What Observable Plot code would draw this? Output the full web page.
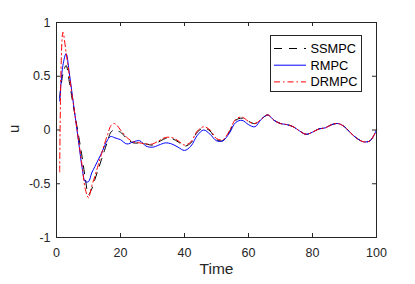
<!DOCTYPE html>
<html><head><meta charset="utf-8">
<script src="https://cdn.jsdelivr.net/npm/d3@7"></script>
<script src="https://cdn.jsdelivr.net/npm/@observablehq/plot@0.6"></script>
<style>body{margin:0;background:#fff}</style>
</head><body><div id="chart"></div>
<script>
const time = [1,2,3,4,5,6,7,8,9,10,11,12,13,14,15,16,17,18,19,20,22,24,26,28,30,32,34,36,38,40,42,44,46,48,50,52,54,56,58,60,62,64,66,68,70,72,74,76,78,80,82,84,86,88,90,92,94,96,98,100];
const ssmpc = [0.30,0.52,0.60,0.45,0.27,0.10,-0.07,-0.25,-0.45,-0.60,-0.55,-0.46,-0.37,-0.28,-0.19,-0.10,-0.02,0.00,-0.01,-0.02,-0.08,-0.12,-0.12,-0.13,-0.14,-0.11,-0.08,-0.08,-0.11,-0.15,-0.12,-0.02,0.02,-0.01,-0.09,-0.10,-0.02,0.09,0.11,0.08,0.06,0.10,0.14,0.09,0.06,0.05,0.03,-0.01,-0.04,-0.02,0.01,0.02,0.05,0.06,0.03,-0.03,-0.08,-0.11,-0.10,0.00];
const rmpc = [0.27,0.60,0.71,0.53,0.31,0.09,-0.13,-0.35,-0.48,-0.48,-0.40,-0.34,-0.28,-0.22,-0.15,-0.09,-0.06,-0.07,-0.08,-0.09,-0.13,-0.11,-0.10,-0.15,-0.16,-0.14,-0.12,-0.13,-0.16,-0.19,-0.15,-0.05,0.00,-0.04,-0.10,-0.10,-0.03,0.07,0.09,0.05,0.03,0.10,0.14,0.09,0.06,0.05,0.03,-0.01,-0.04,-0.02,0.01,0.02,0.05,0.06,0.03,-0.03,-0.08,-0.11,-0.10,0.00];
const drmpc = [-0.39,0.91,0.72,0.51,0.30,0.09,-0.12,-0.33,-0.55,-0.63,-0.52,-0.43,-0.33,-0.23,-0.13,-0.04,0.04,0.06,0.04,0.00,-0.07,-0.11,-0.12,-0.13,-0.13,-0.10,-0.07,-0.07,-0.10,-0.14,-0.11,-0.01,0.03,0.00,-0.08,-0.09,-0.01,0.10,0.12,0.08,0.06,0.10,0.14,0.09,0.06,0.05,0.03,-0.01,-0.04,-0.02,0.01,0.02,0.05,0.06,0.03,-0.03,-0.08,-0.11,-0.10,0.00];
const xTicks = [0,20,40,60,80,100];
const yTicks = [-1,-0.5,0,0.5,1];
const seriesNames = ["SSMPC","RMPC","DRMPC"];
const seriesColors = ["#000000","#0000ff","#ff0000"];
const seriesDash = ["8,7",null,"6,3,1.5,3"];

const W = 415, H = 284, mL = 56, mR = 39, mT = 22, mB = 47;
const pw = W - mL - mR, ph = H - mT - mB;
const allSeries = [ssmpc, rmpc, drmpc];
const data = allSeries.flatMap((vals, k) => vals.map((v, i) => ({t: time[i], u: v, s: seriesNames[k]})));

const lineMarks = seriesNames.map((name, k) =>
  Plot.line(data.filter(d => d.s === name), {x: "t", y: "u", stroke: seriesColors[k], strokeWidth: 1, strokeDasharray: seriesDash[k], curve: "catmull-rom"}));

const chart = Plot.plot({
  width: W, height: H, marginLeft: mL, marginRight: mR, marginTop: mT, marginBottom: mB,
  style: {fontFamily: "'Liberation Sans', Arial, sans-serif", fontSize: "12.5px", color: "#262626", background: "#fff"},
  x: {domain: [0, 100]},
  y: {domain: [-1, 1]},
  marks: [
    ...lineMarks,
    Plot.frame({stroke: "#262626", strokeWidth: 1}),
    Plot.tickX(xTicks, {x: d => d, stroke: "#262626", insetTop: ph - 4}),
    Plot.tickX(xTicks, {x: d => d, stroke: "#262626", insetBottom: ph - 4}),
    Plot.tickY(yTicks, {y: d => d, stroke: "#262626", insetRight: pw - 4}),
    Plot.tickY(yTicks, {y: d => d, stroke: "#262626", insetLeft: pw - 4}),
    Plot.axisX(xTicks, {tickSize: 0, tickPadding: 11, label: null, fontSize: 12.5}),
    Plot.axisY(yTicks, {tickSize: 0, tickPadding: 6, label: null, fontSize: 12.5, tickFormat: d => String(d)}),
    Plot.text(["Time"], {frameAnchor: "bottom", dy: 36, fontSize: 15.5, fill: "#262626"}),
    Plot.text(["u"], {frameAnchor: "left", dx: -42, dy: 3, rotate: -90, fontSize: 15, fill: "#262626"})
  ]
});
document.getElementById("chart").appendChild(chart);

// legend
const svg = d3.select(chart);
const lg = svg.append("g").attr("text-anchor", "start");
lg.append("rect").attr("x", 270.5).attr("y", 35.5).attr("width", 91).attr("height", 56)
  .attr("fill", "#fff").attr("stroke", "#262626").attr("stroke-width", 1);
seriesNames.forEach((name, k) => {
  const y = 48.5 + k * 16.7;
  lg.append("line").attr("x1", 274).attr("x2", 306).attr("y1", y).attr("y2", y)
    .attr("stroke", seriesColors[k]).attr("stroke-width", 1)
    .attr("stroke-dasharray", seriesDash[k]);
  lg.append("text").attr("x", 310.5).attr("y", y).attr("dy", "0.35em").attr("text-anchor", "start")
    .attr("font-size", 12.8).attr("fill", "#000").text(name);
});
</script></body></html>
